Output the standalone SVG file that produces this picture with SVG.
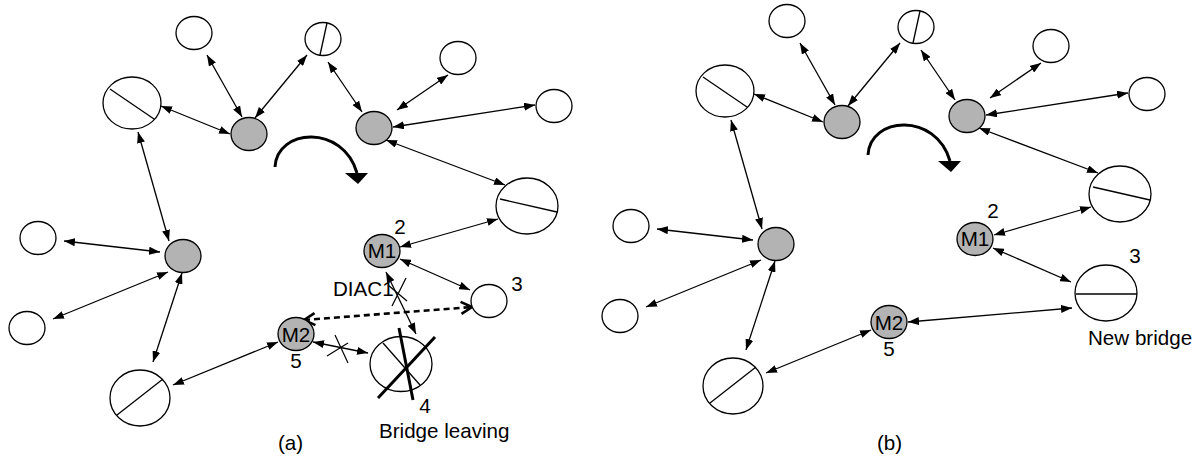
<svg xmlns="http://www.w3.org/2000/svg" width="1200" height="459" viewBox="0 0 1200 459">
  <style>
    .n { fill: #ffffff; stroke: #000; stroke-width: 1.3; }
    .g { fill: #b3b3b3; stroke: #000; stroke-width: 1.3; }
    .sl { stroke: #000; stroke-width: 1.3; fill: none; }
    .thick { stroke: #000; stroke-width: 3; fill: none; }
    .c { stroke: #000; stroke-width: 1.3; fill: none; marker-start: url(#arr); marker-end: url(#arr); }
    .dash { stroke: #000; stroke-width: 2.6; fill: none; stroke-dasharray: 6 4; marker-start: url(#open); marker-end: url(#open); }
    .x { stroke: #000; stroke-width: 1.2; }
    text { font-family: "Liberation Sans", Arial, sans-serif; font-size: 20.6px; fill: #000; }
    .m { text-anchor: middle; }
  </style>
  <defs>
    <marker id="arr" viewBox="0 0 11 8" refX="11" refY="4" markerWidth="11" markerHeight="8" markerUnits="userSpaceOnUse" orient="auto-start-reverse">
      <path d="M0,0 L11,4 L0,8 z" fill="#000"/>
    </marker>
    <marker id="open" viewBox="-2 -2 16 16" refX="11" refY="6" markerWidth="16" markerHeight="16" markerUnits="userSpaceOnUse" orient="auto-start-reverse" overflow="visible">
      <path d="M0,0 L11,6 L0,12" fill="none" stroke="#000" stroke-width="2.6"/>
    </marker>
  </defs>

  <!-- panel (a): before the bridge leaves -->
  <g id="panel-a">
    <g id="a-connectors">
      <line class="c" x1="242" y1="117" x2="207" y2="55"/>
      <line class="c" x1="255" y1="118" x2="307" y2="55"/>
      <line class="c" x1="230" y1="134" x2="161" y2="106"/>
      <line class="c" x1="138" y1="132" x2="169" y2="241"/>
      <line class="c" x1="362" y1="112" x2="328" y2="62"/>
      <line class="c" x1="397" y1="110" x2="448" y2="75"/>
      <line class="c" x1="393" y1="127" x2="535" y2="105"/>
      <line class="c" x1="386" y1="140" x2="505" y2="185"/>
      <line class="c" x1="498" y1="219" x2="400" y2="247"/>
      <line class="c" x1="400" y1="259" x2="470" y2="290"/>
      <line class="c" x1="386" y1="272" x2="416" y2="334"/>
      <line class="dash" x1="304" y1="320" x2="472" y2="307"/>
      <line class="c" x1="313" y1="342" x2="368" y2="353"/>
      <line class="c" x1="160" y1="252" x2="64" y2="241"/>
      <line class="c" x1="168" y1="272" x2="53" y2="319"/>
      <line class="c" x1="182" y1="273" x2="153" y2="362"/>
      <line class="c" x1="173" y1="385" x2="278" y2="342"/>
      <!-- broken links -->
      <line class="x" x1="388" y1="285" x2="407" y2="301"/>
      <line class="x" x1="392" y1="306" x2="406" y2="278"/>
      <line class="x" x1="327" y1="356" x2="348" y2="343"/>
      <line class="x" x1="335" y1="335" x2="348" y2="363"/>
      <!-- rotation arrow -->
      <path class="thick" d="M275,167 C277,128 343,124 357,173"/>
      <path d="M345,173 L368,173 L358,184 z" fill="#000"/>
    </g>

    <g id="a-n1"><ellipse class="n" cx="194" cy="33" rx="18" ry="16.5"/></g>
    <g id="a-n2"><ellipse class="n" cx="323" cy="39" rx="18" ry="16.5"/><line class="sl" x1="320" y1="55" x2="327" y2="23"/></g>
    <g id="a-n3"><ellipse class="n" cx="132" cy="103" rx="29" ry="26"/><line class="sl" x1="110" y1="89" x2="154" y2="119"/></g>
    <g id="a-g1"><ellipse class="g" cx="249" cy="134" rx="18" ry="16.5"/></g>
    <g id="a-g2"><ellipse class="g" cx="374" cy="128" rx="18" ry="16.5"/></g>
    <g id="a-n4"><ellipse class="n" cx="458" cy="58" rx="18" ry="16.5"/></g>
    <g id="a-n5"><ellipse class="n" cx="554" cy="106" rx="18" ry="16.5"/></g>
    <g id="a-n6"><ellipse class="n" cx="527" cy="206" rx="31" ry="28"/><line class="sl" x1="500" y1="199" x2="557" y2="212"/></g>
    <g id="a-g3"><ellipse class="g" cx="183" cy="256" rx="18" ry="16.5"/></g>
    <g id="a-n7"><ellipse class="n" cx="38" cy="238" rx="18" ry="16.5"/></g>
    <g id="a-n8"><ellipse class="n" cx="27" cy="328" rx="18" ry="16.5"/></g>
    <g id="a-n9"><ellipse class="n" cx="140" cy="398" rx="30" ry="28"/><line class="sl" x1="117" y1="415" x2="163" y2="379"/></g>
    <g id="a-m1">
      <ellipse class="g" cx="382" cy="251" rx="18" ry="16.5"/>
      <text class="m" x="382" y="258">M1</text>
      <text class="m" x="400" y="234">2</text>
    </g>
    <g id="a-m2">
      <ellipse class="g" cx="296" cy="334" rx="18" ry="16.5"/>
      <text class="m" x="296" y="342">M2</text>
      <text class="m" x="296" y="368">5</text>
    </g>
    <g id="a-b3">
      <ellipse class="n" cx="489" cy="301" rx="18" ry="16.5"/>
      <text class="m" x="517" y="291">3</text>
    </g>
    <g id="a-b4">
      <ellipse class="n" cx="401" cy="364" rx="31" ry="27.5"/>
      <line class="sl" x1="383" y1="343" x2="420" y2="385"/>
      <line class="thick" x1="399" y1="328" x2="413" y2="400"/>
      <line class="thick" x1="435" y1="337" x2="378" y2="398"/>
      <text class="m" x="425" y="413">4</text>
      <text x="379" y="438">Bridge leaving</text>
    </g>
    <text id="a-diac" x="333" y="296">DIAC1</text>
    <text id="a-caption" x="278" y="450">(a)</text>
  </g>

  <!-- panel (b): after the new bridge takes over -->
  <g id="panel-b" transform="translate(593,-12)">
    <g id="b-connectors">
      <line class="c" x1="242" y1="117" x2="207" y2="55"/>
      <line class="c" x1="255" y1="118" x2="307" y2="55"/>
      <line class="c" x1="230" y1="134" x2="161" y2="106"/>
      <line class="c" x1="138" y1="132" x2="169" y2="241"/>
      <line class="c" x1="362" y1="112" x2="328" y2="62"/>
      <line class="c" x1="397" y1="110" x2="448" y2="75"/>
      <line class="c" x1="393" y1="127" x2="535" y2="105"/>
      <line class="c" x1="386" y1="140" x2="505" y2="185"/>
      <line class="c" x1="498" y1="219" x2="401" y2="247"/>
      <line class="c" x1="400" y1="260" x2="478" y2="294"/>
      <line class="c" x1="315" y1="334" x2="479" y2="320"/>
      <line class="c" x1="160" y1="252" x2="64" y2="241"/>
      <line class="c" x1="168" y1="272" x2="53" y2="319"/>
      <line class="c" x1="182" y1="273" x2="153" y2="362"/>
      <line class="c" x1="173" y1="385" x2="278" y2="342"/>
      <path class="thick" d="M275,167 C277,128 343,124 357,173"/>
      <path d="M345,173 L368,173 L358,184 z" fill="#000"/>
    </g>

    <g id="b-n1"><ellipse class="n" cx="194" cy="33" rx="18" ry="16.5"/></g>
    <g id="b-n2"><ellipse class="n" cx="323" cy="39" rx="18" ry="16.5"/><line class="sl" x1="320" y1="55" x2="327" y2="23"/></g>
    <g id="b-n3"><ellipse class="n" cx="132" cy="103" rx="29" ry="26"/><line class="sl" x1="110" y1="89" x2="154" y2="119"/></g>
    <g id="b-g1"><ellipse class="g" cx="249" cy="134" rx="18" ry="16.5"/></g>
    <g id="b-g2"><ellipse class="g" cx="374" cy="128" rx="18" ry="16.5"/></g>
    <g id="b-n4"><ellipse class="n" cx="458" cy="58" rx="18" ry="16.5"/></g>
    <g id="b-n5"><ellipse class="n" cx="554" cy="106" rx="18" ry="16.5"/></g>
    <g id="b-n6"><ellipse class="n" cx="527" cy="206" rx="31" ry="28"/><line class="sl" x1="500" y1="199" x2="557" y2="212"/></g>
    <g id="b-g3"><ellipse class="g" cx="183" cy="256" rx="18" ry="16.5"/></g>
    <g id="b-n7"><ellipse class="n" cx="38" cy="238" rx="18" ry="16.5"/></g>
    <g id="b-n8"><ellipse class="n" cx="27" cy="328" rx="18" ry="16.5"/></g>
    <g id="b-n9"><ellipse class="n" cx="140" cy="398" rx="30" ry="28"/><line class="sl" x1="117" y1="415" x2="163" y2="379"/></g>
    <g id="b-m1">
      <ellipse class="g" cx="382" cy="251" rx="18" ry="16.5"/>
      <text class="m" x="382" y="258">M1</text>
      <text class="m" x="400" y="230">2</text>
    </g>
    <g id="b-m2">
      <ellipse class="g" cx="296" cy="334" rx="18" ry="16.5"/>
      <text class="m" x="296" y="342">M2</text>
      <text class="m" x="296" y="368">5</text>
    </g>
    <g id="b-b3">
      <ellipse class="n" cx="513" cy="305" rx="31" ry="28"/>
      <line class="sl" x1="483" y1="306" x2="544" y2="306"/>
      <text class="m" x="542" y="275">3</text>
      <text x="495" y="357">New bridge</text>
    </g>
  </g>
  <text id="b-caption" x="877" y="450">(b)</text>
</svg>
